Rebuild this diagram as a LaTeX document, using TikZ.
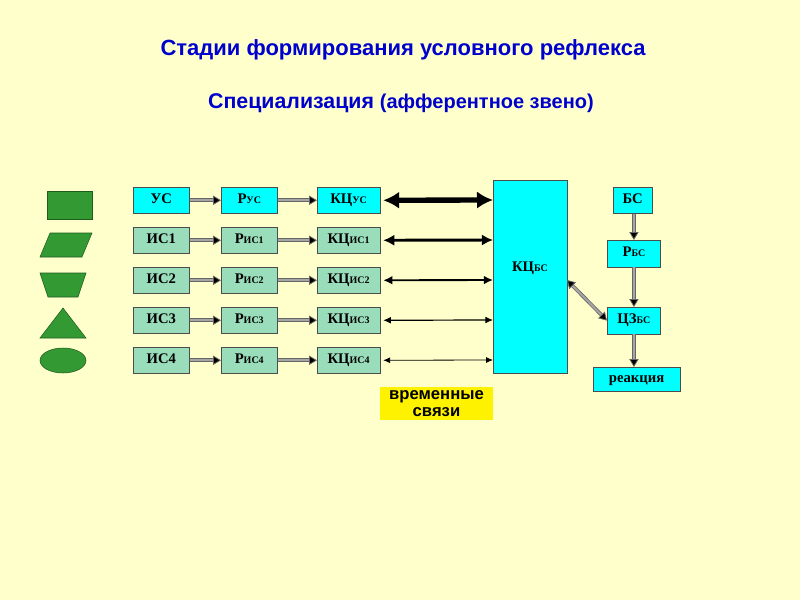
\documentclass[tikz,border=0pt]{standalone}
\usepackage{fontspec}
\setmainfont{Liberation Serif}
\newfontfamily\ttl{Liberation Sans}
\usetikzlibrary{shapes.geometric,arrows.meta}
\definecolor{bg}{HTML}{FFFFCC}
\definecolor{cy}{HTML}{00FFFF}
\definecolor{lg}{HTML}{99DDBB}
\definecolor{gr}{HTML}{339933}
\definecolor{tb}{HTML}{0000CC}
\begin{document}
\begin{tikzpicture}[x=0.75pt,y=-0.75pt,
 box/.style={draw=black!70,font=\bfseries\fontsize{11}{13}\selectfont,inner sep=0pt,anchor=north west,text height=0.72em,text depth=0.22em},
 fw/.style={draw=black!60,double=black!35,double distance=1.5pt,line width=0.6pt,-{Triangle[length=6pt,width=7pt,fill=black]}},
 sh/.style={fill=gr,draw=gr!60!black}]
\fill[bg] (0,0) rectangle (800,600);
\useasboundingbox (0,0) rectangle (800,600);
\node[tb,font=\ttl\bfseries\fontsize{16.5}{19}\selectfont] (t) at (403,50) {Стадии формирования условного рефлекса};
\node[tb,font=\ttl\bfseries\fontsize{16}{19}\selectfont] (s) at (401,103) {Специализация {\fontsize{15}{17}\selectfont(афферентное звено)}};
\newcommand{\sub}[1]{{\fontsize{7.5}{8}\selectfont #1}}
\foreach \n/\lab/\c/\y in {0/УС/cy/187,1/ИС1/lg/227,2/ИС2/lg/267,3/ИС3/lg/307,4/ИС4/lg/347}{
 \node[box,fill=\c,minimum width=42pt,minimum height=19.5pt] (a\n) at (133,\y) {\lab};}
\foreach \n/\lab/\c/\y in {0/УС/cy/187,1/ИС1/lg/227,2/ИС2/lg/267,3/ИС3/lg/307,4/ИС4/lg/347}{
 \node[box,fill=\c,minimum width=42pt,minimum height=19.5pt] (b\n) at (221,\y) {Р\sub{\lab}};
 \node[box,fill=\c,minimum width=47pt,minimum height=19.5pt] (c\n) at (317,\y) {КЦ\sub{\lab}};
 \draw[fw] (a\n) -- (b\n);
 \draw[fw] (b\n) -- (c\n);}
\node[box,fill=cy,minimum width=55.5pt,minimum height=145pt] (k) at (493,180) {};
\node[font=\bfseries\fontsize{11}{13}\selectfont] (kl) at (530,268) {КЦ\sub{БС}};
\foreach \n/\w in {0/4,1/2.2,2/1.4,3/0.9,4/0.6}{
 \coordinate (e\n) at (493,{200+40*\n});
 \draw[line width=\w pt,{Latex[length={4pt+2*\w pt},width={3pt+2.5*\w pt}]}-{Latex[length={4pt+2*\w pt},width={3pt+2.5*\w pt}]}] (c\n.east) ++(3,0) -- (e\n);}
\node[box,fill=cy,minimum width=29pt,minimum height=19.5pt] (bs) at (613,187) {БС};
\node[box,fill=cy,minimum width=40pt,minimum height=20pt] (rbs) at (607,240) {Р\sub{БС}};
\node[box,fill=cy,minimum width=40pt,minimum height=20pt] (cz) at (607,307) {ЦЗ\sub{БС}};
\node[box,fill=cy,minimum width=65pt,minimum height=18pt] (re) at (593,367) {реакция};
\draw[fw] (rbs.north |- bs.south) -- (rbs.north);
\draw[fw] (rbs) -- (cz);
\draw[fw] (cz.south) -- (cz.south |- re.north);
\draw[draw=black!60,double=black!35,double distance=1.5pt,line width=0.6pt,{Triangle[length=6pt,width=7pt,fill=black]}-{Triangle[length=6pt,width=7pt,fill=black]}] (567,280) -- (cz.west);
\node[fill=yellow,minimum width=85pt,minimum height=25pt,inner sep=0pt,align=center,font=\ttl\bfseries\fontsize{12.5}{13}\selectfont] (vs) at (436.5,403.5) {временные\\связи};
\fill[sh] (47,191) rectangle (92,219);
\fill[sh] (50,233) -- (92,233) -- (82,257) -- (40,257) -- cycle;
\fill[sh] (40,273) -- (86,273) -- (78,297) -- (48,297) -- cycle;
\fill[sh] (63,308) -- (86,338) -- (40,338) -- cycle;
\fill[sh] (63,360.5) ellipse [x radius=23,y radius=12.5];
\end{tikzpicture}
\end{document}
